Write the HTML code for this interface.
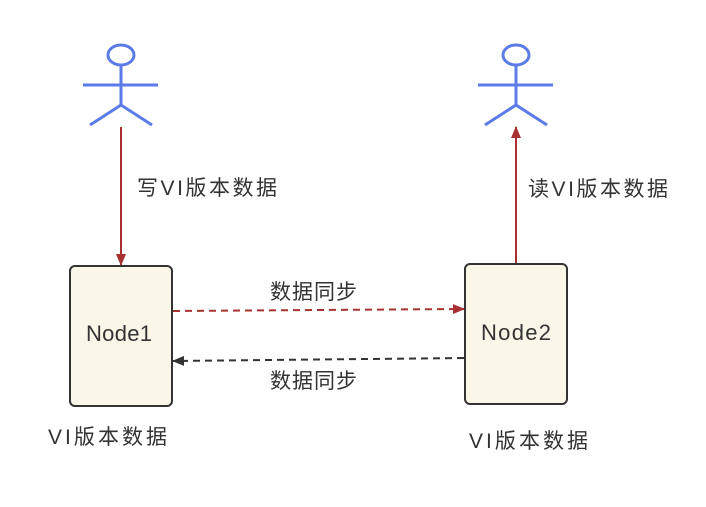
<!DOCTYPE html>
<html><head><meta charset="utf-8"><style>
body{margin:0;background:#fff;}
svg text{font-family:"Liberation Sans","Noto Sans CJK SC",sans-serif;fill:#333;}
</style></head><body>
<svg width="706" height="502" viewBox="0 0 706 502" xmlns="http://www.w3.org/2000/svg">
<defs>
<marker id="r" markerWidth="12" markerHeight="10" refX="11" refY="5" orient="auto" markerUnits="userSpaceOnUse"><path d="M0,0 L12,5 L0,10 Z" fill="#a83232"/></marker>
<marker id="k" markerWidth="12" markerHeight="10" refX="11" refY="5" orient="auto" markerUnits="userSpaceOnUse"><path d="M0,0 L12,5 L0,10 Z" fill="#333"/></marker>
</defs>
<g stroke="#5b7be8" stroke-width="3" fill="none">
<ellipse cx="121" cy="55" rx="13" ry="10"/>
<line x1="121" y1="65" x2="121" y2="105"/><line x1="83" y1="85" x2="158" y2="85"/>
<line x1="121" y1="105" x2="90" y2="125"/><line x1="121" y1="105" x2="152" y2="125"/>
<ellipse cx="516" cy="55" rx="13" ry="10"/>
<line x1="516" y1="65" x2="516" y2="105"/><line x1="478" y1="85" x2="553" y2="85"/>
<line x1="516" y1="105" x2="485" y2="125"/><line x1="516" y1="105" x2="547" y2="125"/>
</g>
<line x1="121" y1="127" x2="121" y2="265" stroke="#a83232" stroke-width="2" marker-end="url(#r)"/>
<line x1="516" y1="264" x2="516" y2="127" stroke="#a83232" stroke-width="2" marker-end="url(#r)"/>
<rect x="70" y="266" width="102" height="140" rx="5" fill="#faf6e8" stroke="#333" stroke-width="2"/>
<rect x="465" y="264" width="102" height="140" rx="5" fill="#faf6e8" stroke="#333" stroke-width="2"/>
<line x1="173" y1="311" x2="464" y2="309" stroke="#a83232" stroke-width="2" stroke-dasharray="7,5" marker-end="url(#r)"/>
<line x1="464" y1="358" x2="173" y2="361" stroke="#333" stroke-width="2" stroke-dasharray="7,5" marker-end="url(#k)"/>
<text x="86" y="341" font-size="22" textLength="66" lengthAdjust="spacing">Node1</text>
<text x="481" y="340" font-size="22" textLength="70" lengthAdjust="spacing">Node2</text>
<text x="137" y="195" font-size="21" textLength="140" lengthAdjust="spacing">写VI版本数据</text>
<text x="528" y="196" font-size="21" textLength="140" lengthAdjust="spacing">读VI版本数据</text>
<text x="270" y="299" font-size="21" textLength="87" lengthAdjust="spacing">数据同步</text>
<text x="270" y="388" font-size="21" textLength="87" lengthAdjust="spacing">数据同步</text>
<text x="48" y="444" font-size="21" textLength="119" lengthAdjust="spacing">VI版本数据</text>
<text x="469" y="448" font-size="21" textLength="119" lengthAdjust="spacing">VI版本数据</text>
</svg>
</body></html>
